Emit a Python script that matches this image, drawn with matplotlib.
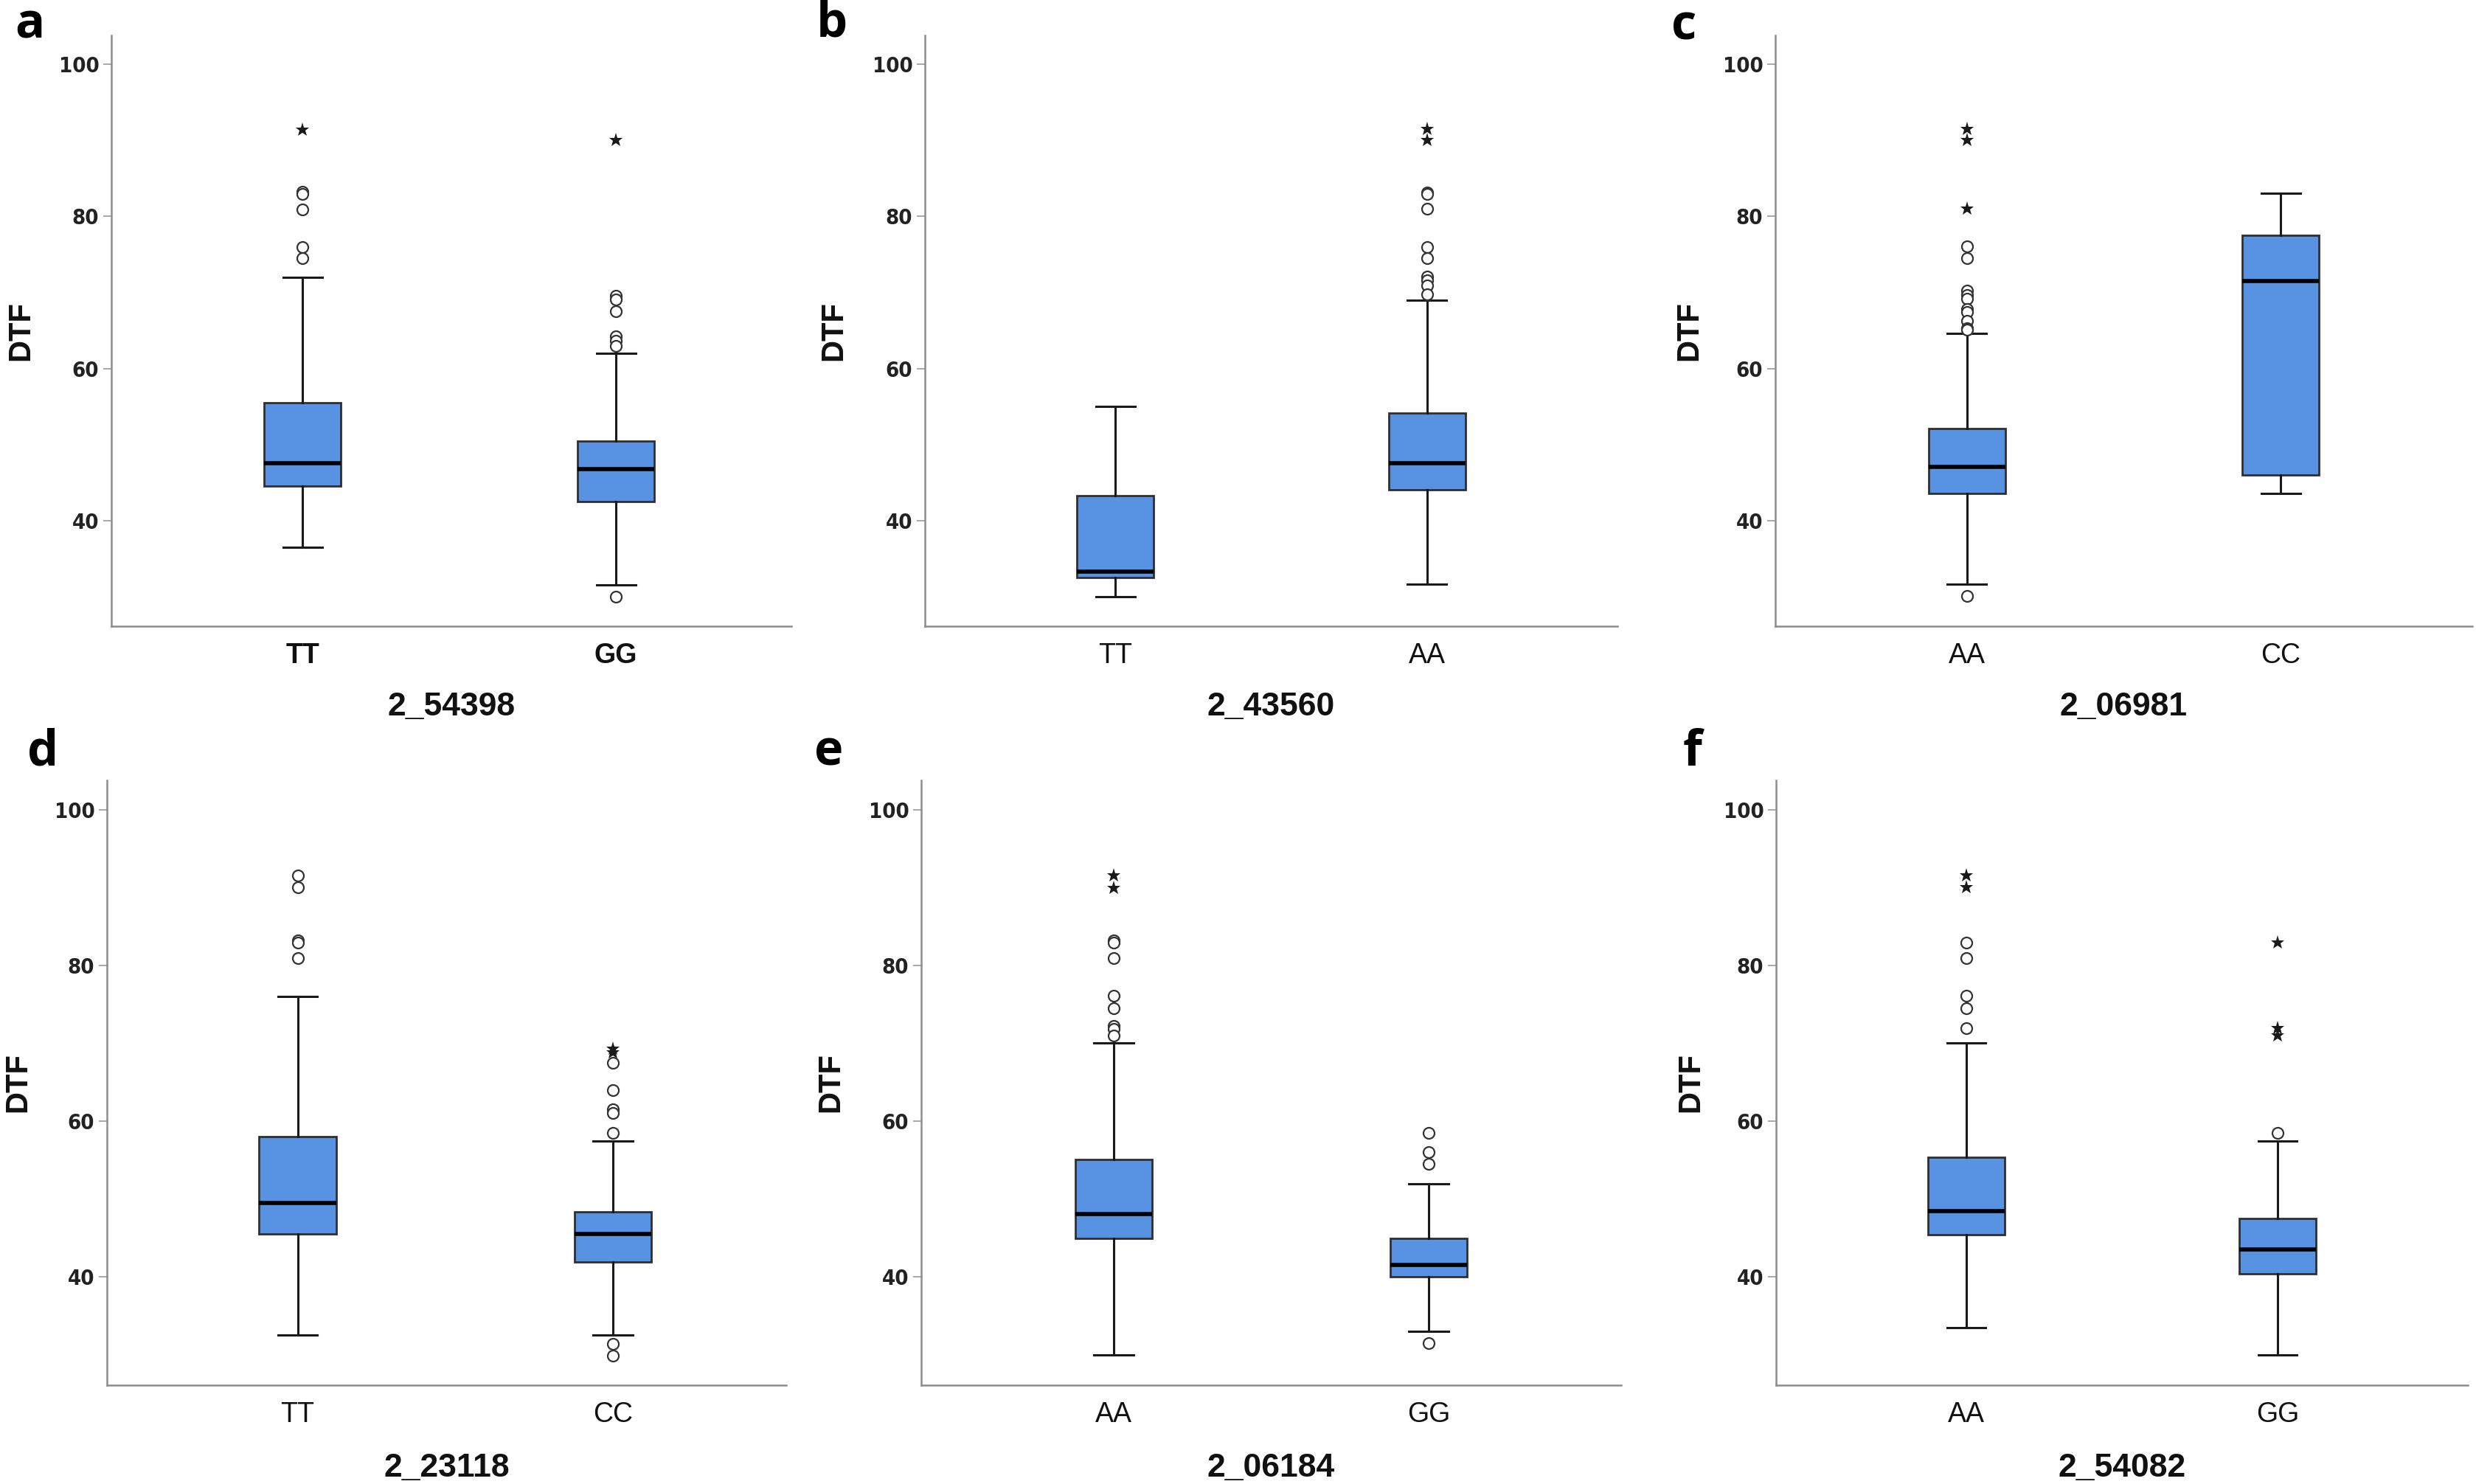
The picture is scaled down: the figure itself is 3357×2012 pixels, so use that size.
import matplotlib
matplotlib.use("Agg")
import matplotlib.pyplot as plt

# one entry per panel a..f
panel_letters = ["a", "b", "c", "d", "e", "f"]
snp_names = ["2_54398", "2_43560", "2_06981", "2_23118", "2_06184", "2_54082"]
genotypes = [["TT", "GG"], ["TT", "AA"], ["AA", "CC"],
             ["TT", "CC"], ["AA", "GG"], ["AA", "GG"]]

q1 = [[44.5, 42.5], [32.5, 44.0], [43.6, 46.0],
      [45.5, 41.9], [45.0, 40.0], [45.45, 40.4]]
medians = [[47.5, 46.8], [33.3, 47.5], [47.1, 71.5],
           [49.5, 45.5], [48.1, 41.5], [48.5, 43.5]]
q3 = [[55.5, 50.4], [43.3, 54.1], [52.1, 77.5],
      [58.0, 48.4], [55.1, 45.0], [55.4, 47.5]]
whisker_low = [[36.5, 31.5], [30.0, 31.6], [31.6, 43.6],
               [32.5, 32.5], [30.0, 33.0], [33.5, 30.0]]
whisker_high = [[72.0, 62.0], [55.0, 69.0], [64.6, 83.0],
                [76.0, 57.5], [70.1, 52.0], [70.1, 57.5]]

# outliers (circles) and extreme values (stars)
circles = [
    [[83.2, 82.9, 80.9, 76.0, 74.5], [69.6, 69.1, 67.5, 64.2, 63.6, 63.0, 30.0]],
    [[], [83.1, 82.9, 81.0, 76.0, 74.5, 72.1, 71.6, 70.9, 69.8]],
    [[76.1, 74.5, 70.2, 69.7, 69.2, 67.8, 67.4, 66.3, 65.3, 65.1, 30.1], []],
    [[91.6, 90.1, 83.2, 83.0, 81.0], [67.5, 64.0, 61.55, 61.1, 58.5, 31.4, 29.9]],
    [[83.2, 83.0, 81.0, 76.1, 74.5, 72.2, 71.9, 71.0], [58.5, 56.0, 54.5, 31.5]],
    [[83.0, 81.0, 76.1, 74.5, 72.0], [58.5]],
]
stars = [
    [[91.4], [90.0]],
    [[], [91.5, 90.0]],
    [[91.5, 90.0, 81.0], []],
    [[], [69.3, 68.8]],
    [[91.6, 90.0], []],
    [[91.6, 90.1], [83.0, 72.0, 71.0]],
]

W, H, DPI = 3357, 2012, 200
fig = plt.figure(figsize=(W / DPI, H / DPI), dpi=DPI)

# axes boxes in pixels: left, right, top, bottom
boxes_px = [
    (151, 1073, 48, 849), (1254, 2193, 48, 849), (2407, 3352, 48, 849),
    (145, 1066, 1058, 1878), (1249, 2198, 1058, 1878), (2408, 3346, 1058, 1878),
]
xlims = [(-0.61, 1.56), (-0.611, 1.611), (-0.611, 1.611),
         (-0.605, 1.55), (-0.611, 1.611), (-0.611, 1.611)]
letter_px = [(40, 34), (1128, 32), (2283, 36), (58, 1020), (1124, 1020), (2295, 1020)]
dtf_px = [28, 1130, 2290, 24, 1126, 2292]

box_color = "#5792E3"
num_font = ["Liberation Sans Narrow", "DejaVu Sans"]

for i in range(6):
    l, r, t, b = boxes_px[i]
    ax = fig.add_axes([l / W, 1 - b / H, (r - l) / W, (b - t) / H])

    stats = []
    for j in range(2):
        stats.append(dict(med=medians[i][j], q1=q1[i][j], q3=q3[i][j],
                          whislo=whisker_low[i][j], whishi=whisker_high[i][j],
                          fliers=[]))
    ax.bxp(stats, positions=[0, 1], widths=0.245, showfliers=False,
           patch_artist=True,
           boxprops=dict(facecolor=box_color, edgecolor="#2f2f2f", linewidth=1.0),
           medianprops=dict(color="black", linewidth=2.0),
           whiskerprops=dict(color="#1a1a1a", linewidth=1.1),
           capprops=dict(color="#1a1a1a", linewidth=1.1),
           capwidths=0.125)

    for j in range(2):
        if circles[i][j]:
            ax.plot([j] * len(circles[i][j]), circles[i][j], "o", ms=5.4,
                    mfc="white", mec="#333333", mew=0.8, zorder=4)
        if stars[i][j]:
            ax.plot([j] * len(stars[i][j]), stars[i][j], "*", ms=7,
                    color="#1a1a1a", mew=0, zorder=4)

    ax.set_xlim(*xlims[i])
    ax.set_ylim(26.1, 103.8)
    ax.set_yticks([40, 60, 80, 100])
    ax.set_yticklabels(["40", "60", "80", "100"], family=num_font,
                       fontweight="bold", fontsize=10.5, fontstretch="condensed",
                       color="#222222")
    ax.tick_params(axis="y", length=4, width=0.6, color="#999999", pad=2)
    ax.set_xticks([0, 1])
    ax.set_xticklabels(genotypes[i], fontsize=13.5, family="Liberation Sans",
                       fontweight="bold" if i == 0 else "normal", color="#111111")
    ax.tick_params(axis="x", length=0, pad=8)

    for side in ["top", "right"]:
        ax.spines[side].set_visible(False)
    for side in ["left", "bottom"]:
        ax.spines[side].set_color("#8c8c8c")
        ax.spines[side].set_linewidth(0.9)

    fig.text(dtf_px[i] / W, 1 - ((t + b) / 2) / H, "DTF", rotation=90,
             ha="center", va="center", fontsize=15, fontweight="bold",
             family="Liberation Sans", color="#111111")
    ax.text(0.5, -0.137, snp_names[i], transform=ax.transAxes, ha="center",
            va="center", fontsize=16, fontweight="bold", family="Liberation Sans",
            color="#111111")

    lx, ly = letter_px[i]
    fig.text(lx / W, 1 - ly / H, panel_letters[i], ha="center", va="center",
             fontsize=24, fontweight="bold", family=["Open Sans", "DejaVu Sans"])

fig.savefig("out.png", dpi=DPI)
